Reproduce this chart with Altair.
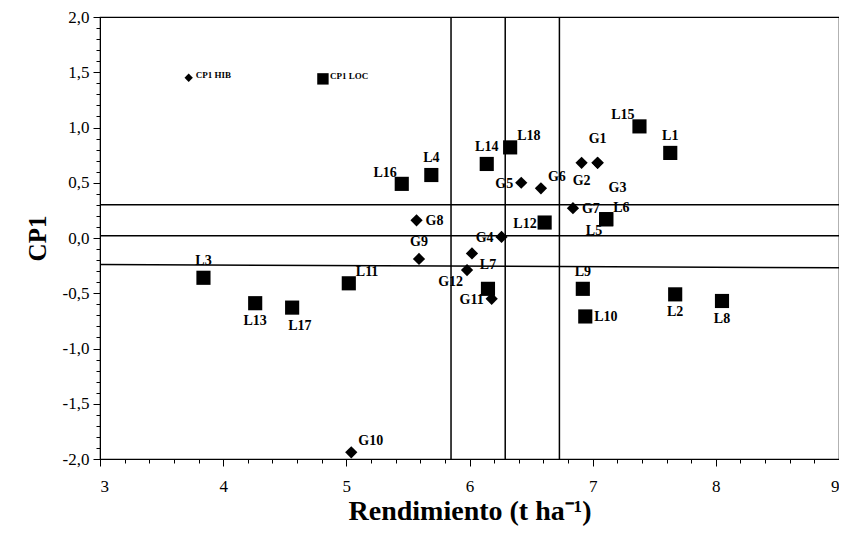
import altair as alt
import pandas as pd

# ---------------- data ----------------
names = ["CP1 HIB", "CP1 LOC",
         "L15", "L1", "L18", "L14", "L4", "L16", "L12", "L6", "L5", "L3", "L11",
         "L13", "L17", "L9", "L10", "L2", "L8", "L7",
         "G1", "G2", "G3", "G5", "G6", "G7", "G8", "G4", "G9", "", "G12", "G11", "G10"]
rend = [3.72, 4.81,
        7.38, 7.63, 6.33, 6.14, 5.69, 5.45, 6.61, 7.11, 7.11, 3.84, 5.02,
        4.26, 4.56, 6.92, 6.94, 7.67, 8.05, 6.15,
        7.04, 6.91, 7.04, 6.42, 6.58, 6.84, 5.57, 6.26, 5.59, 6.02, 5.98, 6.18, 5.04]
cp1 = [1.45, 1.44,
       1.01, 0.77, 0.82, 0.67, 0.57, 0.49, 0.14, 0.17, 0.17, -0.36, -0.41,
       -0.59, -0.63, -0.46, -0.71, -0.51, -0.57, -0.46,
       0.68, 0.68, 0.68, 0.50, 0.45, 0.27, 0.16, 0.01, -0.19, -0.14, -0.29, -0.55, -1.94]
kind = ["HIB", "LOC"] + ["LOC"] * 18 + ["HIB"] * 13
legend_item = [True, True] + [False] * 31
label_pos = ["leg", "leg",
             "ul", "a", "ur", "a", "a", "ul", "l", "ur", "bl", "a", "ur",
             "b", "br", "a", "r", "b", "b", "aa",
             "aa", "b", "brr", "l", "ur", "r", "r", "l", "a", "none", "bl", "l", "ur"]

vlines = [5.85, 6.29, 6.73]
hline_y = [0.30, 0.02, -0.24]
hline_y2 = [0.30, 0.02, -0.27]

# ---------------- tables ----------------
df = pd.DataFrame({"name": names, "x": rend, "y": cp1, "kind": kind,
                   "legend": legend_item, "pos": label_pos})
vdf = pd.DataFrame({"x": vlines})
hdf = pd.DataFrame({"y": hline_y, "y2": hline_y2, "x": [3] * 3, "x2": [9] * 3})

x_ticks = [round(3 + 0.2 * i, 1) for i in range(31)]
y_ticks = [round(-2 + 0.1 * i, 1) for i in range(41)]

FONT = "Times New Roman, Liberation Serif, serif"

xscale = alt.Scale(domain=[3, 9], nice=False, zero=False)
yscale = alt.Scale(domain=[-2, 2], nice=False, zero=False)

xaxis = alt.Axis(
    values=x_ticks,
    labelExpr="abs(datum.value - round(datum.value)) < 0.001 ? format(datum.value, 'd') : ''",
    tickSize={"condition": {"test": "abs(datum.value - round(datum.value)) < 0.001", "value": 7}, "value": 4},
    labelOverlap=False, grid=False, domainColor="black", tickColor="black",
    labelFont=FONT, labelFontSize=17, labelColor="black", labelPadding=12,
    title="Rendimiento (t ha⁻¹)", titleFont=FONT, titleFontSize=28, titleFontWeight="bold",
    titleColor="black", titleY=52, titleBaseline="middle",
)
yaxis = alt.Axis(
    values=y_ticks,
    labelExpr="abs(datum.value*2 - round(datum.value*2)) < 0.001 ? replace(replace(format(datum.value, '.1f'), '.', ','), '\u2212', '-') : ''",
    tickSize={"condition": {"test": "abs(datum.value*2 - round(datum.value*2)) < 0.001", "value": 7}, "value": 4},
    labelOverlap=False, grid=False, domainColor="black", tickColor="black",
    labelFont=FONT, labelFontSize=17, labelColor="black", labelPadding=4,
    title="CP1", titleFont=FONT, titleFontSize=25, titleFontWeight="bold",
    titleColor="black", titlePadding=12,
)

base = alt.Chart(df)

vrules = alt.Chart(vdf).mark_rule(color="black", strokeWidth=1.5).encode(
    x=alt.X("x:Q", scale=xscale, axis=xaxis))
hrules = alt.Chart(hdf).mark_rule(color="black", strokeWidth=1.5).encode(
    x=alt.X("x:Q", scale=xscale, axis=xaxis), x2="x2:Q",
    y=alt.Y("y:Q", scale=yscale, axis=yaxis), y2="y2:Q")

def pts(k, shape, size_main, size_leg):
    return base.transform_filter(alt.datum.kind == k).mark_point(
        shape=shape, filled=True, color="black", opacity=1).encode(
        x=alt.X("x:Q", scale=xscale, axis=xaxis),
        y=alt.Y("y:Q", scale=yscale, axis=yaxis),
        size=alt.condition(alt.datum.legend, alt.value(size_leg), alt.value(size_main)))

layers = [vrules, hrules, pts("LOC", "square", 200, 130), pts("HIB", "diamond", 150, 70)]

# label placement: code -> (dx, dy, align)
offsets = {
    "a": (0, -17, "center"),
    "aa": (0, -24, "center"),
    "b": (0, 18, "center"),
    "r": (9, 1, "left"),
    "l": (-8, 1, "right"),
    "ur": (7, -11, "left"),
    "ul": (-5, -11, "right"),
    "bl": (-4, 12, "right"),
    "br": (-4, 18, "left"),
    "brr": (11, 25, "left"),
}
for code, (dx, dy, al) in offsets.items():
    layers.append(base.transform_filter(alt.datum.pos == code).mark_text(
        font=FONT, fontSize=14, fontWeight="bold", color="black",
        dx=dx, dy=dy, align=al, baseline="middle").encode(
        x=alt.X("x:Q", scale=xscale, axis=xaxis),
        y=alt.Y("y:Q", scale=yscale, axis=yaxis),
        text="name:N"))
layers.append(base.transform_filter(alt.datum.pos == "leg").mark_text(
    font=FONT, fontSize=9, fontWeight="bold", color="black",
    dx=7, dy=-3, align="left", baseline="middle").encode(
    x=alt.X("x:Q", scale=xscale, axis=xaxis),
    y=alt.Y("y:Q", scale=yscale, axis=yaxis),
    text="name:N"))

chart = alt.layer(*layers).properties(
    width=739, height=442,
    autosize=alt.AutoSizeParams(type="none"),
    padding={"left": 92, "top": 9, "right": 0, "bottom": 70},
    background="white",
).configure_view(stroke="black", strokeWidth=1.2)

chart.save("out.html", embed_options={"renderer": "svg", "actions": False})
